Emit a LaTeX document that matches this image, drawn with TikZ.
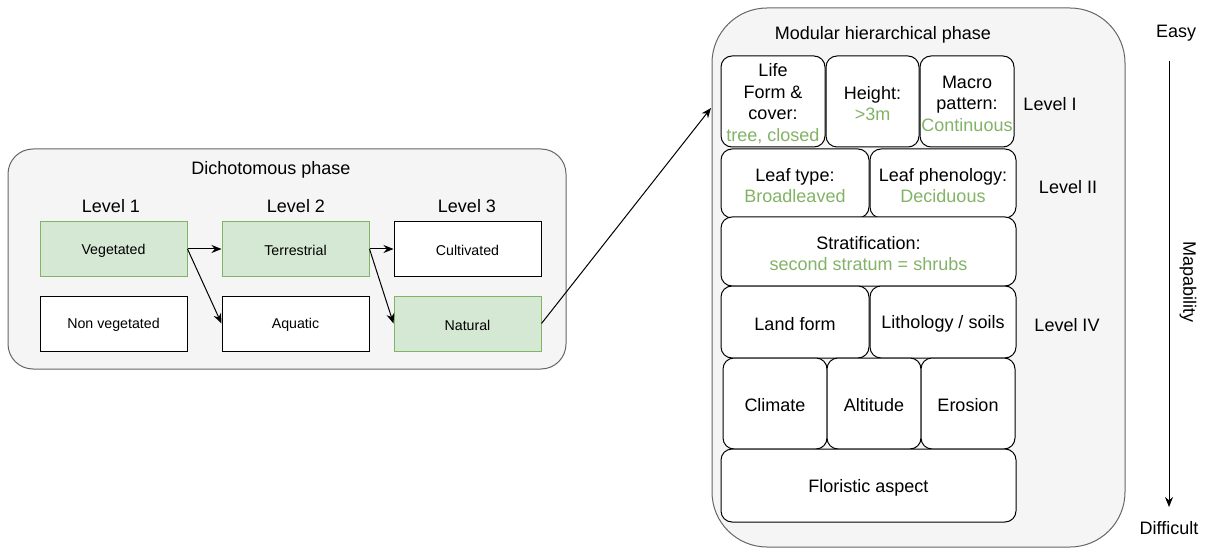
\documentclass[tikz,border=0pt]{standalone}
\usepackage{fontspec}
\setmainfont{Liberation Sans}
\usetikzlibrary{arrows.meta}
\definecolor{gfill}{HTML}{D5E8D4}
\definecolor{gdraw}{HTML}{82B366}
\definecolor{gtext}{HTML}{82B366}
\definecolor{pfill}{HTML}{F5F5F5}
\definecolor{pdraw}{HTML}{666666}
\tikzset{
  big/.style={font=\fontsize{18}{21.6}\selectfont},
  small/.style={font=\fontsize{14.2}{17}\selectfont},
  panel/.style={draw=pdraw, fill=pfill, line width=1pt, inner sep=0pt},
  sbox/.style={draw=black, fill=white, line width=1pt, inner sep=0pt, minimum width=147pt, minimum height=55pt},
  stext/.style={small, inner sep=0pt, yshift=-1.5pt},
  gbox/.style={sbox, draw=gdraw, fill=gfill},
  rbox/.style={draw=black, fill=white, line width=1pt, rounded corners=11pt, inner sep=0pt},
  rtext/.style={big, align=center, inner sep=0pt, yshift=-2pt},
  arr/.style={-{Stealth[length=10pt,width=8pt]}, line width=1pt},
  lbl/.style={big, inner sep=0pt},
}
\newcommand{\gt}[1]{\textcolor{gtext}{#1}}
\begin{document}
\begin{tikzpicture}[x=1pt,y=-1pt]
\useasboundingbox (0,0) rectangle (1205,548);
% left panel
\node[panel, rounded corners=25pt, minimum width=558pt, minimum height=220pt] (dich) at (287,259) {};
\node[lbl] (dtitle) at (271,170) {Dichotomous phase};
\node[lbl] (l1) at (111,206) {Level 1};
\node[lbl] (l2) at (296,206) {Level 2};
\node[lbl] (l3) at (467,206) {Level 3};
\node[gbox, label={[stext]center:Vegetated}] (veg) at (113.5,249) {};
\node[gbox, label={[stext]center:Terrestrial}] (ter) at (295.5,249) {};
\node[sbox, label={[stext]center:Cultivated}] (cul) at (467.5,249) {};
\node[sbox, label={[stext]center:Non vegetated}] (nonveg) at (113.5,323.5) {};
\node[sbox, label={[stext]center:Aquatic}] (aqu) at (295.5,323.5) {};
\node[gbox, label={[stext]center:Natural}] (nat) at (467.5,323.5) {};
\draw[arr] (veg.east) -- (ter.west);
\draw[arr] (veg.east) -- (aqu.west);
\draw[arr] (ter.east) -- (cul.west);
\draw[arr] (ter.east) -- (nat.west);
% right panel
\node[panel, rounded corners=55pt, minimum width=413pt, minimum height=539pt] (mhp) at (918.5,277.5) {};
\coordinate (mhpin) at (711,108);
\draw[arr] (nat.east) -- (mhpin);
\node[lbl] (mtitle) at (883,35) {Modular hierarchical phase};
\node[rbox, minimum width=104pt, minimum height=91pt, label={[rtext]center:{Life\\Form \&\\cover:\\\gt{tree, closed}}}] (life) at (773,101.5) {};
\node[rbox, minimum width=93pt, minimum height=91pt, label={[rtext]center:{Height:\\\gt{>3m}}}] (height) at (872.5,101.5) {};
\node[rbox, minimum width=94pt, minimum height=91pt, label={[rtext]center:{Macro\\pattern:\\\gt{Continuous}}}] (macro) at (967,101.5) {};
\node[rbox, minimum width=148pt, minimum height=69pt, label={[rtext]center:{Leaf type:\\\gt{Broadleaved}}}] (leaft) at (795,183.5) {};
\node[rbox, minimum width=146pt, minimum height=69pt, label={[rtext]center:{Leaf phenology:\\\gt{Deciduous}}}] (leafp) at (943,183.5) {};
\node[rbox, minimum width=295pt, minimum height=69pt, label={[rtext]center:{Stratification:\\\gt{second stratum = shrubs}}}] (strat) at (868.5,251.5) {};
\node[rbox, minimum width=148pt, minimum height=72pt, label={[rtext]center:{Land form}}] (land) at (795,322) {};
\node[rbox, minimum width=146pt, minimum height=72pt, label={[rtext]center:{Lithology / soils}}] (lith) at (943,322) {};
\node[rbox, minimum width=104pt, minimum height=91pt, label={[rtext]center:{Climate}}] (clim) at (775,403.5) {};
\node[rbox, minimum width=94pt, minimum height=91pt, label={[rtext]center:{Altitude}}] (alt) at (874,403.5) {};
\node[rbox, minimum width=94pt, minimum height=91pt, label={[rtext]center:{Erosion}}] (ero) at (968,403.5) {};
\node[rbox, minimum width=295pt, minimum height=73pt, label={[rtext]center:{Floristic aspect}}] (flor) at (868.5,485.5) {};
\node[lbl] (lvI) at (1050,104) {Level I};
\node[lbl] (lvII) at (1068,187) {Level II};
\node[lbl] (lvIV) at (1067,325) {Level IV};
% mapability axis
\node[lbl] (easy) at (1176,33) {Easy};
\node[lbl] (diff) at (1169,528) {Difficult};
\coordinate (axtop) at (1169,61);
\coordinate (axbot) at (1169,507);
\draw[arr] (axtop) -- (axbot);
\node[lbl, rotate=-90] (mapab) at (1188,282) {Mapability};
\end{tikzpicture}
\end{document}
